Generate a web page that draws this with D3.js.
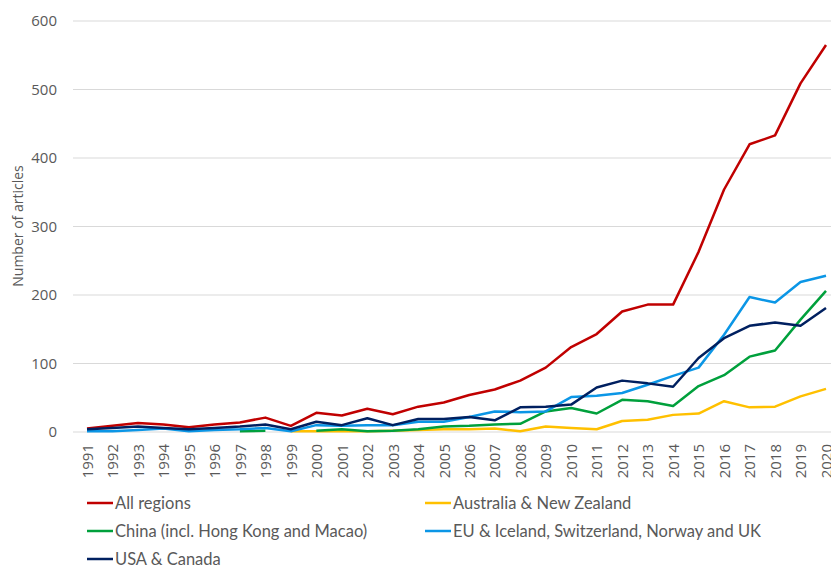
<!DOCTYPE html>
<html><head><meta charset="utf-8">
<script src="https://cdn.jsdelivr.net/npm/d3@7"></script>
<style>body{margin:0;background:#fff}svg{display:block}</style>
</head><body>
<svg id="c" width="831" height="566"></svg>
<script>
const years = d3.range(1991, 2021).map(String);
const yTicks = [0, 100, 200, 300, 400, 500, 600];
const seriesNames = ["All regions", "Australia & New Zealand", "China (incl. Hong Kong and Macao)", "EU & Iceland, Switzerland, Norway and UK", "USA & Canada"];
const seriesColors = ["#C00000", "#FFC000", "#00A03C", "#0B96E6", "#002060"];
const allRegions = [5, 9, 13, 11, 7, 11, 14, 21, 9, 28, 24, 34, 26, 37, 43, 54, 62, 75, 94, 124, 143, 176, 186, 186, 263, 354, 420, 433, 509, 565];
const ausNz = [null, null, null, null, null, null, null, null, 1, 1, 1, 1, 2, 3, 4, 4, 5, 1, 8, 6, 4, 16, 18, 25, 27, 45, 36, 37, 52, 63];
const china = [null, null, null, null, null, null, 1, 2, null, 2, 4, 1, 2, 4, 8, 9, 11, 12, 30, 35, 27, 47, 45, 38, 67, 83, 110, 119, 164, 206];
const eu = [1, 1, 3, 5, 1, 3, 4, 6, 1, 10, 9, 10, 10, 15, 15, 22, 30, 29, 30, 51, 53, 57, 69, 82, 94, 142, 197, 189, 219, 228];
const usa = [4, 6, 8, 6, 4, 6, 8, 11, 4, 15, 10, 20, 10, 19, 19, 22, 17, 36, 37, 40, 65, 75, 71, 66, 108, 137, 155, 160, 155, 181];
const seriesValues = [allRegions, ausNz, china, eu, usa];

const svg = d3.select("#c");
const x = d3.scalePoint().domain(years).range([87, 826]);
const y = d3.scaleLinear().domain([0, 600]).range([432, 21]);
const gray = "#595959";

// gridlines
svg.append("g").selectAll("line").data(yTicks).join("line")
  .attr("x1", 73).attr("x2", 831).attr("y1", d => y(d)).attr("y2", d => y(d))
  .attr("stroke", "#d9d9d9").attr("stroke-width", 1);

// y axis labels
const yAxis = svg.append("g").attr("transform", "translate(57,0)")
  .call(d3.axisLeft(y).tickValues(yTicks).tickSize(0).tickPadding(0));
yAxis.select(".domain").remove();
yAxis.selectAll("text").attr("font-family", "'Open Sans', sans-serif").attr("font-size", 15).attr("fill", gray);

// x axis labels
const xAxis = svg.append("g").attr("transform", "translate(0,432)")
  .call(d3.axisBottom(x).tickSize(0).tickPadding(0));
xAxis.select(".domain").remove();
xAxis.selectAll("text")
  .attr("font-family", "'Open Sans', sans-serif").attr("font-size", 15).attr("fill", gray)
  .attr("transform", "rotate(-90)").attr("text-anchor", "end")
  .attr("x", -12).attr("y", 0).attr("dy", "0.35em");

// y title
svg.append("text").attr("transform", "translate(23,226) rotate(-90)")
  .attr("text-anchor", "middle").attr("font-family", "'Open Sans', sans-serif")
  .attr("font-size", 14).attr("fill", gray).text("Number of articles");

// lines
const line = d3.line().defined(d => d.v != null).x(d => x(d.year)).y(d => y(d.v));
seriesValues.forEach((vals, i) => {
  const pts = vals.map((v, j) => ({year: years[j], v}));
  svg.append("path").datum(pts).attr("d", line)
    .attr("fill", "none").attr("stroke", seriesColors[i]).attr("stroke-width", 2.5)
    .attr("stroke-linejoin", "round");
});

// legend
const legPos = [[87, 503], [425, 503], [87, 531], [425, 531], [87, 559]];
seriesNames.forEach((name, i) => {
  const [lx, ly] = legPos[i];
  const g = svg.append("g");
  g.append("line").attr("x1", lx).attr("x2", lx + 26).attr("y1", ly).attr("y2", ly)
    .attr("stroke", seriesColors[i]).attr("stroke-width", 2.5);
  g.append("text").attr("x", lx + 28).attr("y", ly)
    .attr("dy", "0.35em")
    .attr("font-family", "Lato, 'Open Sans', sans-serif")
    .attr("font-size", 16.5).attr("fill", gray).text(name);
});
</script>
</body></html>
